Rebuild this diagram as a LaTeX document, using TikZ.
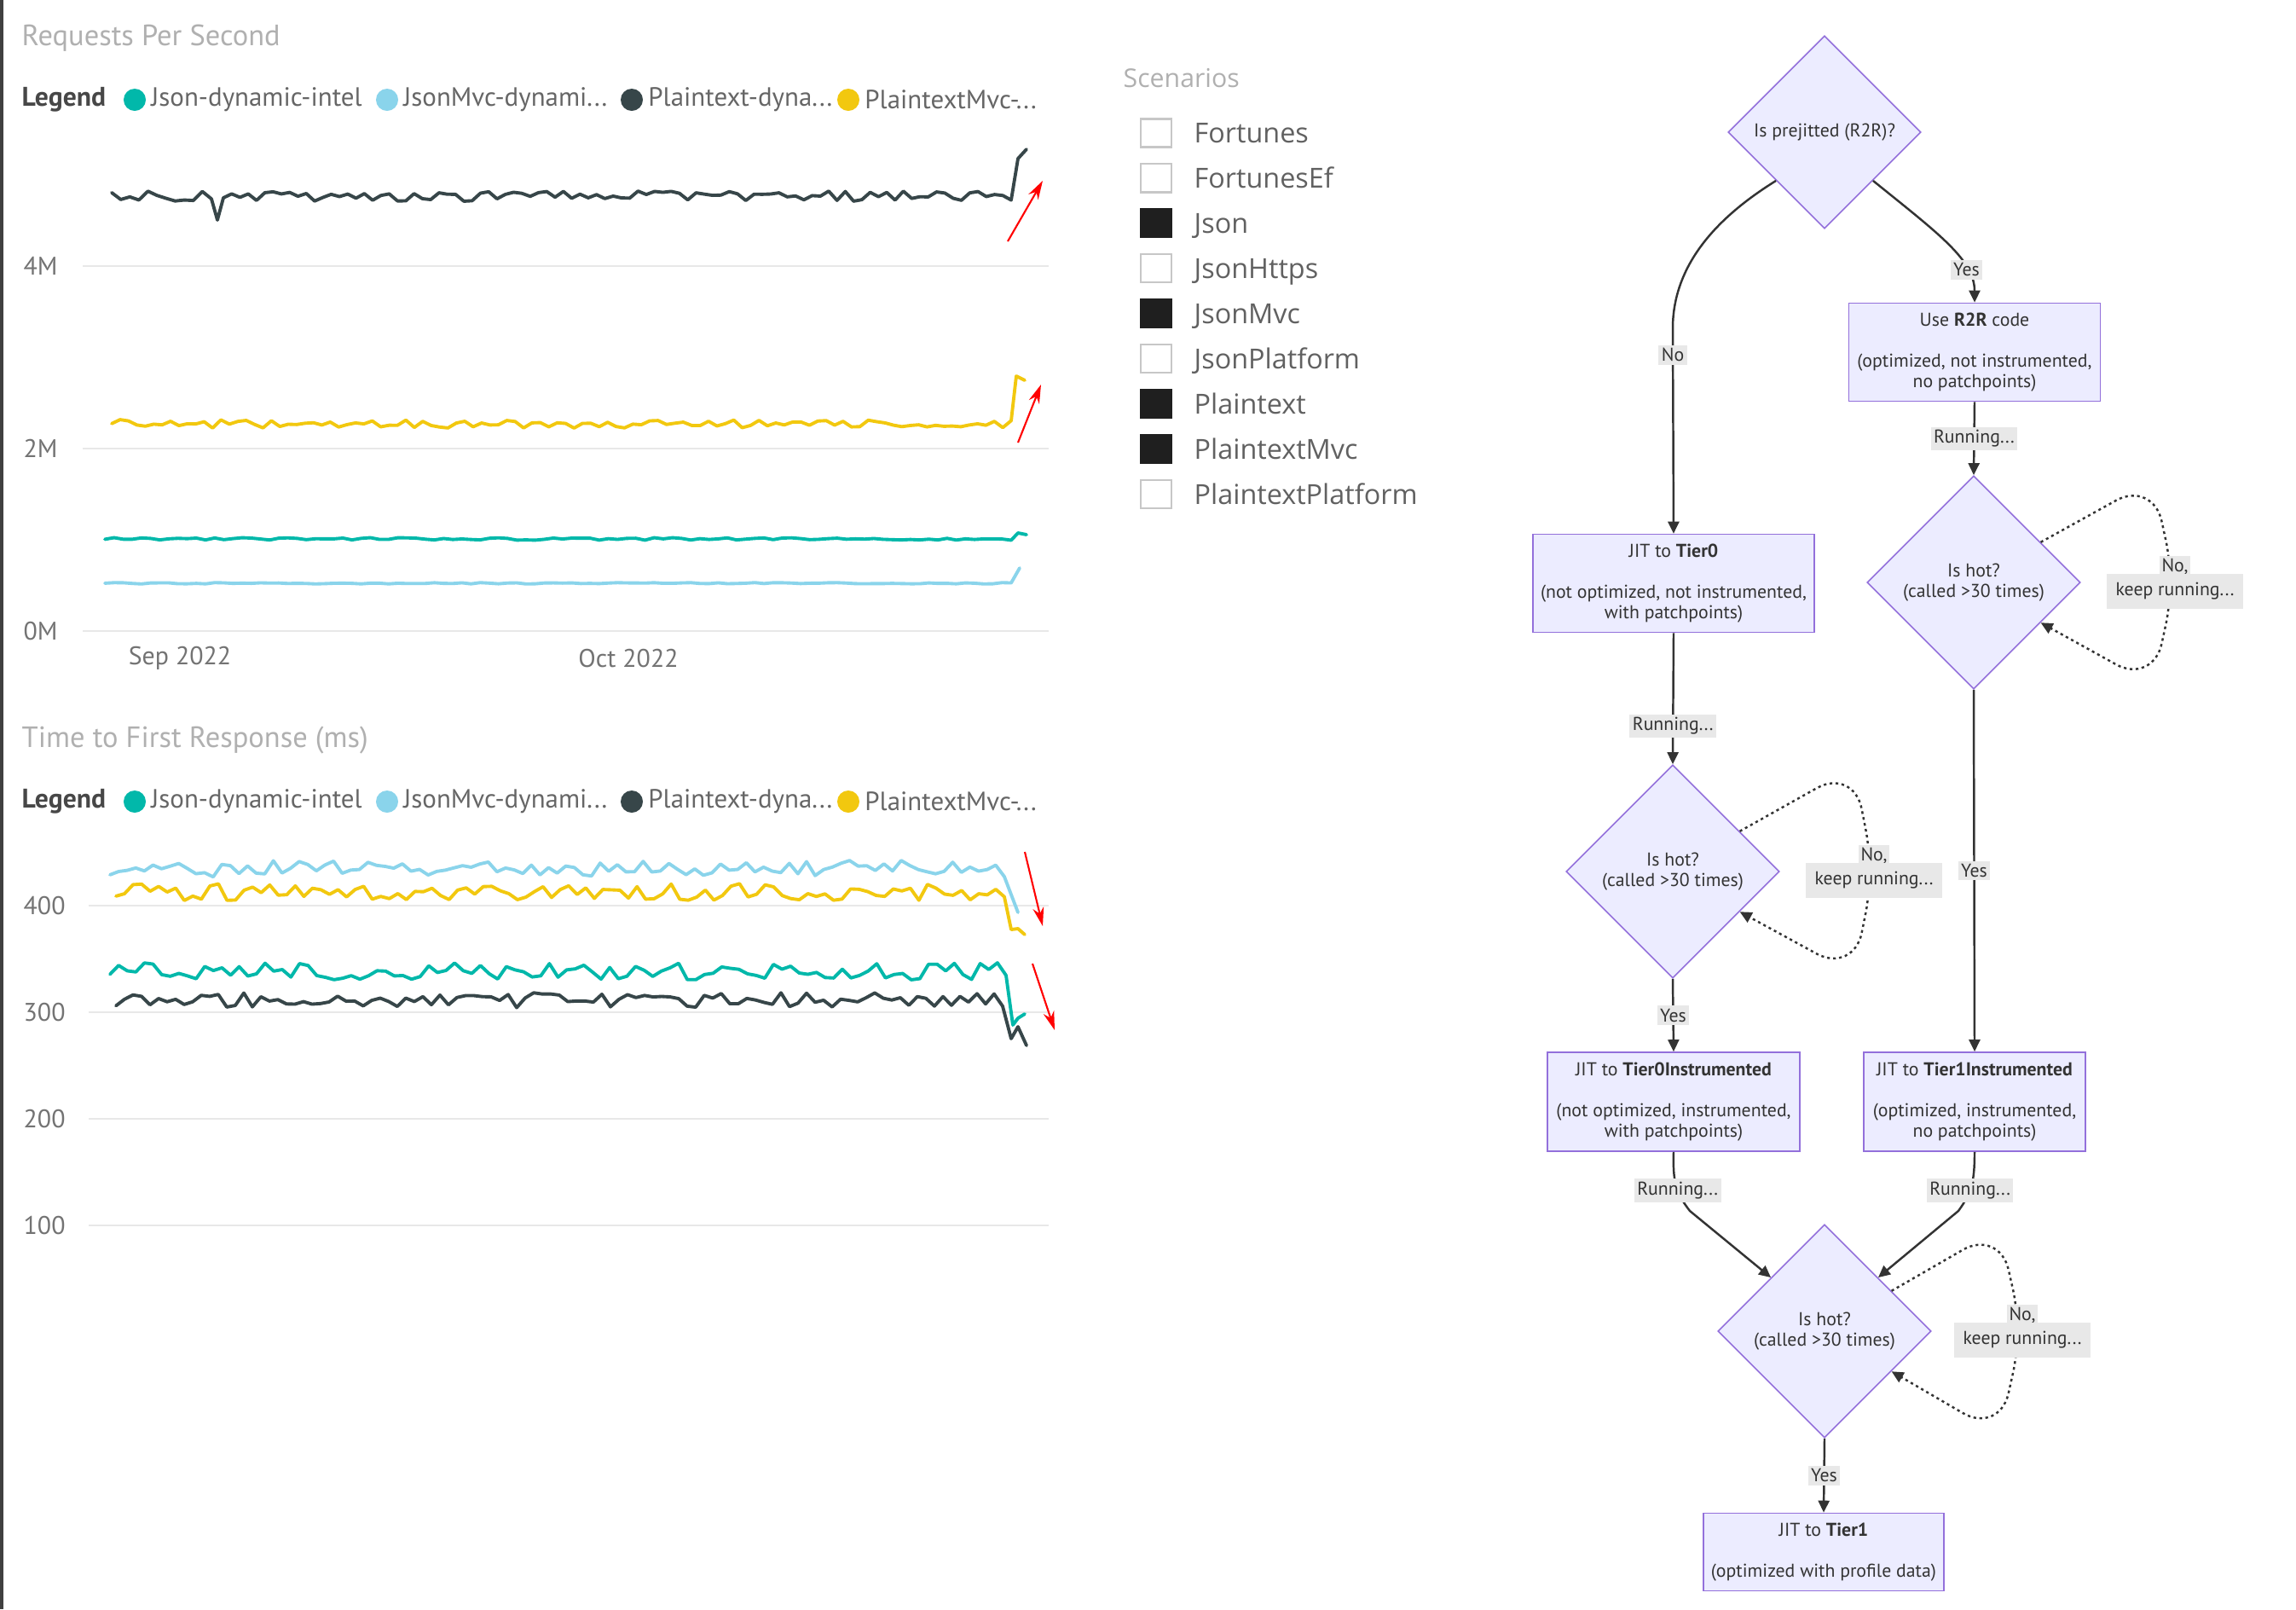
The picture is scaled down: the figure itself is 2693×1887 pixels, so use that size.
\documentclass[tikz,border=0pt]{standalone}
\usepackage{fontspec}
\setmainfont{PT Sans}
\newfontfamily\scenfont{Open Sans}
\usepackage{xcolor}
\usetikzlibrary{shapes.geometric, arrows.meta, positioning}

\definecolor{jsonc}{HTML}{01B8AA}
\definecolor{mvcc}{HTML}{8AD4EB}
\definecolor{ptc}{HTML}{374649}
\definecolor{ptmvcc}{HTML}{F2C80F}
\definecolor{gridc}{HTML}{E8E8E8}
\definecolor{titlec}{HTML}{B0B0B0}
\definecolor{mfill}{HTML}{ECECFF}
\definecolor{mstroke}{HTML}{9370DB}
\definecolor{medge}{HTML}{333333}
\definecolor{mlabel}{HTML}{E8E8E8}

\newcommand{\keeprun}{\fboxsep=0.8pt\relax
    \colorbox{mlabel}{No,}\\[1.2pt]\colorbox{mlabel}{keep running...}}

\begin{document}
\begin{tikzpicture}[x=0.01cm, y=-0.01cm,
    ttl/.style={anchor=west, inner sep=0, text=titlec, font=\fontsize{9.8}{11}\selectfont},
    legname/.style={anchor=west, inner sep=0, text=black!72, font=\bfseries\fontsize{9}{10}\selectfont},
    legdot/.style={circle, fill=#1, minimum size=2.6mm, inner sep=0},
    legtxt/.style={inner sep=0, text=black!60, font=\fontsize{8.8}{10}\selectfont},
    ytick/.style={anchor=west, inner sep=0, text=black!55, font=\fontsize{8.5}{9}\selectfont},
    xtick/.style={inner sep=0, text=black!55, font=\fontsize{8.5}{9}\selectfont},
    gridline/.style={draw=gridc, line width=0.45pt},
    serie/.style={line width=1.1pt, line join=round, line cap=round},
    redarrow/.style={red, line width=0.6pt, -{Stealth[length=2.2mm, width=1.3mm]}},
    chk/.style={rectangle, draw=black!22, line width=0.6pt, minimum width=3.6mm, minimum height=3.3mm, inner sep=0, outer sep=0},
    chkon/.style={chk, fill=black!88, draw=black!88},
    scen/.style={inner sep=0, text=black!62, text height=8pt, text depth=1.4pt, font=\scenfont\fontsize{9.2}{10}\selectfont},
    decision/.style={diamond, aspect=1, draw=mstroke, fill=mfill, line width=0.45pt, minimum size=2.5cm, inner sep=0, align=center, text=medge, font=\fontsize{6.2}{6.8}\selectfont},
    stepbox/.style={rectangle, draw=mstroke, fill=mfill, line width=0.45pt, inner sep=0, align=center, text=medge, font=\fontsize{6.2}{6.8}\selectfont},
    edge/.style={draw=medge, line width=0.7pt, -{Triangle[length=1.4mm, width=1.3mm]}},
    loopedge/.style={edge, dash pattern=on 0.9pt off 1.1pt, rounded corners=14pt},
    lbl/.style={fill=mlabel, inner sep=1pt, text=medge, font=\fontsize{6.2}{6.8}\selectfont},
    looplbl/.style={inner sep=0, align=center, text=medge, font=\fontsize{6.2}{6.8}\selectfont}
]
\pgfmathsetseed{2022}
\lineskiplimit=-10pt
\useasboundingbox (0,0) rectangle (2693,1887);
\fill[white] (0,0) rectangle (2693,1887);
\fill[black!75] (0,0) rectangle (4,1887);

% Requests per second chart
\node[ttl] (rpstitle) at (25,45) {Requests Per Second};
\node[legname] (rpsleg) at (25,117) {Legend};
\node[legdot=jsonc] (rdot1) at (158,117) {};
\node[legtxt, right=0.5mm of rdot1] (rtxt1) {Json-dynamic-intel};
\node[legdot=mvcc] (rdot2) at (454,117) {};
\node[legtxt, right=0.5mm of rdot2] (rtxt2) {JsonMvc-dynami...};
\node[legdot=ptc] (rdot3) at (741,117) {};
\node[legtxt, right=0.5mm of rdot3] (rtxt3) {Plaintext-dyna...};
\node[legdot=ptmvcc] (rdot4) at (995,117) {};
\node[legtxt, right=0.5mm of rdot4] (rtxt4) {PlaintextMvc-...};

\draw[gridline] (97,312) -- (1230,312);
\draw[gridline] (97,526) -- (1230,526);
\draw[gridline] (97,740) -- (1230,740);
\node[ytick] (r4m) at (27,312) {4M};
\node[ytick] (r2m) at (27,526) {2M};
\node[ytick] (r0m) at (27,740) {0M};
\node[xtick] (sep) at (211,772) {Sep 2022};
\node[xtick] (oct) at (737,772) {Oct 2022};

\draw[serie, ptc] plot[domain=131:248, samples=12] (\x,{230+6*rand}) -- (255,258)
    -- plot[domain=262:1186, samples=96] (\x,{230+6*rand}) -- (1194,186) -- (1204,175);
\draw[serie, ptmvcc] plot[domain=131:1186, samples=108] (\x,{497+5*rand}) -- (1192,441) -- (1202,446);
\draw[serie, jsonc] plot[domain=123:1186, samples=100] (\x,{632+1.5*rand}) -- (1194,625) -- (1204,627);
\draw[serie, mvcc] plot[domain=123:1186, samples=100] (\x,{684+0.8*rand}) -- (1196,666);

\coordinate (rup1s) at (1182,283);
\coordinate (rup1e) at (1223,212);
\coordinate (rup2s) at (1194,519);
\coordinate (rup2e) at (1221,451);
\draw[redarrow] (rup1s) -- (rup1e);
\draw[redarrow] (rup2s) -- (rup2e);

% Time to first response chart
\node[ttl] (ttftitle) at (25,868) {Time to First Response (ms)};
\node[legname] (ttfleg) at (25,940) {Legend};
\node[legdot=jsonc] (tdot1) at (158,940) {};
\node[legtxt, right=0.5mm of tdot1] (ttxt1) {Json-dynamic-intel};
\node[legdot=mvcc] (tdot2) at (454,940) {};
\node[legtxt, right=0.5mm of tdot2] (ttxt2) {JsonMvc-dynami...};
\node[legdot=ptc] (tdot3) at (741,940) {};
\node[legtxt, right=0.5mm of tdot3] (ttxt3) {Plaintext-dyna...};
\node[legdot=ptmvcc] (tdot4) at (995,940) {};
\node[legtxt, right=0.5mm of tdot4] (ttxt4) {PlaintextMvc-...};

\draw[gridline] (104,1062) -- (1230,1062);
\draw[gridline] (104,1187) -- (1230,1187);
\draw[gridline] (104,1312) -- (1230,1312);
\draw[gridline] (104,1437) -- (1230,1437);
\node[ytick] (t400) at (27,1062) {400};
\node[ytick] (t300) at (27,1187) {300};
\node[ytick] (t200) at (27,1312) {200};
\node[ytick] (t100) at (27,1437) {100};

\draw[serie, mvcc] plot[domain=129:1178, samples=105] (\x,{1019+10*rand}) -- (1194,1070);
\draw[serie, ptmvcc] plot[domain=136:1178, samples=105] (\x,{1046+10*rand}) -- (1186,1090) -- (1194,1089) -- (1202,1096);
\draw[serie, jsonc] plot[domain=129:1180, samples=105] (\x,{1139+10*rand}) -- (1188,1202) -- (1194,1194) -- (1202,1189);
\draw[serie, ptc] plot[domain=136:1176, samples=105] (\x,{1173+9*rand}) -- (1186,1218) -- (1194,1204) -- (1204,1226);

\coordinate (tdn1s) at (1202,999);
\coordinate (tdn1e) at (1223,1086);
\coordinate (tdn2s) at (1211,1130);
\coordinate (tdn2e) at (1237,1208);
\draw[redarrow] (tdn1s) -- (tdn1e);
\draw[redarrow] (tdn2s) -- (tdn2e);

% Scenarios slicer
\node[ttl, font=\scenfont\fontsize{8.6}{10}\selectfont] (scentitle) at (1317,92) {Scenarios};
\node[chk] (fortunes) at (1356,156) {};
\node[chk, below=1.99mm of fortunes] (fortunesef) {};
\node[chkon, below=1.99mm of fortunesef] (json) {};
\node[chk, below=1.99mm of json] (jsonhttps) {};
\node[chkon, below=1.99mm of jsonhttps] (jsonmvc) {};
\node[chk, below=1.99mm of jsonmvc] (jsonplat) {};
\node[chkon, below=1.99mm of jsonplat] (plain) {};
\node[chkon, below=1.99mm of plain] (plainmvc) {};
\node[chk, below=1.99mm of plainmvc] (plainplat) {};
\node[scen, right=2.6mm of fortunes] {Fortunes};
\node[scen, right=2.6mm of fortunesef] {FortunesEf};
\node[scen, right=2.6mm of json] {Json};
\node[scen, right=2.6mm of jsonhttps] {JsonHttps};
\node[scen, right=2.6mm of jsonmvc] {JsonMvc};
\node[scen, right=2.6mm of jsonplat] {JsonPlatform};
\node[scen, right=2.6mm of plain] {Plaintext};
\node[scen, right=2.6mm of plainmvc] {PlaintextMvc};
\node[scen, right=2.6mm of plainplat] {PlaintextPlatform};

% Tiered compilation flow
\node[decision, minimum size=2.26cm] (prejit) at (2140,155) {Is prejitted (R2R)?};
\node[stepbox, minimum width=2.95cm, minimum height=1.15cm] (r2r) at (2316,413)
    {Use \textbf{R2R} code\\[6.8pt](optimized, not instrumented,\\no patchpoints)};
\node[stepbox, minimum width=3.3cm, minimum height=1.15cm] (tier0) at (1963,684)
    {JIT to \textbf{Tier0}\\[6.8pt](not optimized, not instrumented,\\with patchpoints)};
\node[decision] (hotb) at (2315,683) {Is hot?\\(called >30 times)};
\node[decision] (hota) at (1962,1022) {Is hot?\\(called >30 times)};
\node[stepbox, minimum width=2.96cm, minimum height=1.16cm] (tier0i) at (1963,1292)
    {JIT to \textbf{Tier0Instrumented}\\[6.8pt](not optimized, instrumented,\\with patchpoints)};
\node[stepbox, minimum width=2.6cm, minimum height=1.16cm] (tier1i) at (2316,1292)
    {JIT to \textbf{Tier1Instrumented}\\[6.8pt](optimized, instrumented,\\no patchpoints)};
\node[decision] (hotc) at (2140,1561) {Is hot?\\(called >30 times)};
\node[stepbox, minimum width=2.82cm, minimum height=0.91cm] (tier1) at (2139,1820)
    {JIT to \textbf{Tier1}\\[6.8pt](optimized with profile data)};

% Connections
\draw[edge] (prejit.south west) .. controls (2030,245) and (1962,300) .. (1962,385)
    -- node[lbl, pos=0.13] {No} (tier0.north);
\draw[edge] (prejit.south east) .. controls (2275,275) and (2316,305) .. node[lbl, pos=0.72] {Yes} (r2r.north);
\draw[edge] (r2r.south) -- node[lbl] {Running...} (hotb.north);
\draw[edge] (tier0.south) -- node[lbl, pos=0.71] {Running...} (hota.north);
\draw[edge] (hotb.south) -- node[lbl] {Yes} (tier1i.north);
\draw[edge] (hota.south) -- node[lbl] {Yes} (tier0i.north);
\draw[edge] (tier0i.south) .. controls (1962,1385) and (1965,1398) .. node[lbl, pos=0.6] {Running...} (1982,1420)
    -- (hotc.north west);
\draw[edge] (tier1i.south) .. controls (2316,1385) and (2313,1398) .. node[lbl, pos=0.6] {Running...} (2297,1420)
    -- (hotc.north east);
\draw[edge] (hotc.south) -- node[lbl] {Yes} (tier1.north);

% Keep running loops
\draw[loopedge] (hotb.31) -- ([shift={(210,-120)}]hotb.center) -- ([shift={(236,0)}]hotb.center)
    node[looplbl] {\keeprun}
    -- ([shift={(210,120)}]hotb.center) -- (hotb.-31);
\draw[loopedge] (hota.31) -- ([shift={(212,-122)}]hota.center) -- ([shift={(236,0)}]hota.center)
    node[looplbl] {\keeprun}
    -- ([shift={(212,120)}]hota.center) -- (hota.-31);
\draw[loopedge] (hotc.31) -- ([shift={(205,-120)}]hotc.center) -- ([shift={(232,0)}]hotc.center)
    node[looplbl] {\keeprun}
    -- ([shift={(205,121)}]hotc.center) -- (hotc.-31);

\end{tikzpicture}
\end{document}
